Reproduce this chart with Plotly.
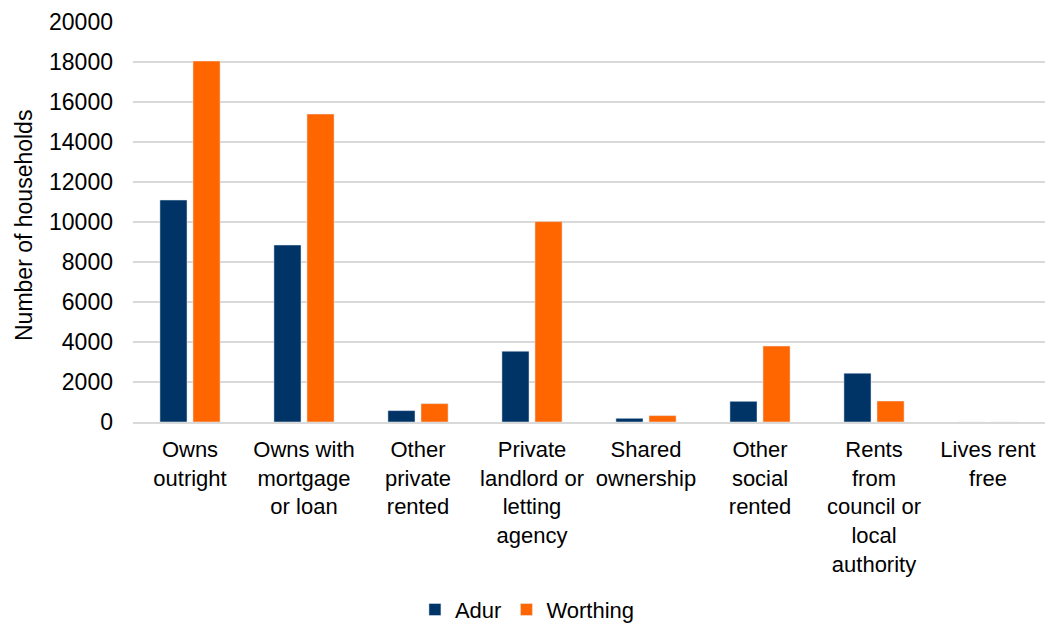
import plotly.graph_objects as go

# Household tenure counts by district
categories = [
    "Owns<br>outright",
    "Owns with<br>mortgage<br>or loan",
    "Other<br>private<br>rented",
    "Private<br>landlord or<br>letting<br>agency",
    "Shared<br>ownership",
    "Other<br>social<br>rented",
    "Rents<br>from<br>council or<br>local<br>authority",
    "Lives rent<br>free",
]
adur = [11100, 8850, 570, 3540, 185, 1035, 2440, 0]
worthing = [18050, 15400, 920, 10020, 320, 3800, 1050, 0]
y_ticks = list(range(0, 20001, 2000))

FONT = "Liberation Sans, Arial, sans-serif"

fig = go.Figure()
fig.add_trace(go.Bar(name="Adur", x=categories, y=adur, marker_color="#003466"))
fig.add_trace(go.Bar(name="Worthing", x=categories, y=worthing, marker_color="#FF6600"))

fig.update_layout(
    width=1057,
    height=626,
    margin=dict(l=133, r=12, t=22, b=204, autoexpand=False),
    paper_bgcolor="white",
    plot_bgcolor="white",
    barmode="group",
    bargap=0.42,
    bargroupgap=0.18,
    font=dict(family=FONT, size=22, color="#000000"),
    showlegend=True,
    legend=dict(
        orientation="h",
        xref="container",
        yref="container",
        x=0.499,
        xanchor="center",
        y=0.026,
        yanchor="middle",
        font=dict(size=22),
        itemwidth=30,
    ),
    annotations=[
        dict(
            text="Number of households",
            textangle=-90,
            xref="paper",
            yref="paper",
            x=(24 - 133) / 912,
            y=0.49,
            xanchor="center",
            yanchor="middle",
            showarrow=False,
            font=dict(size=23),
        )
    ],
)

fig.update_yaxes(
    range=[0, 20000],
    tickvals=y_ticks,
    ticktext=[str(v) for v in y_ticks],
    showgrid=True,
    gridcolor="#d9d9d9",
    gridwidth=1.5,
    zeroline=False,
    showline=False,
    ticks="",
    ticklabelstandoff=19,
    tickfont=dict(size=23),
)

fig.update_xaxes(
    showline=True,
    linecolor="#d9d9d9",
    linewidth=1.5,
    ticks="",
    tickangle=0,
    tickfont=dict(size=22),
    ticklabelstandoff=7,
)

fig.write_html("out.html")
